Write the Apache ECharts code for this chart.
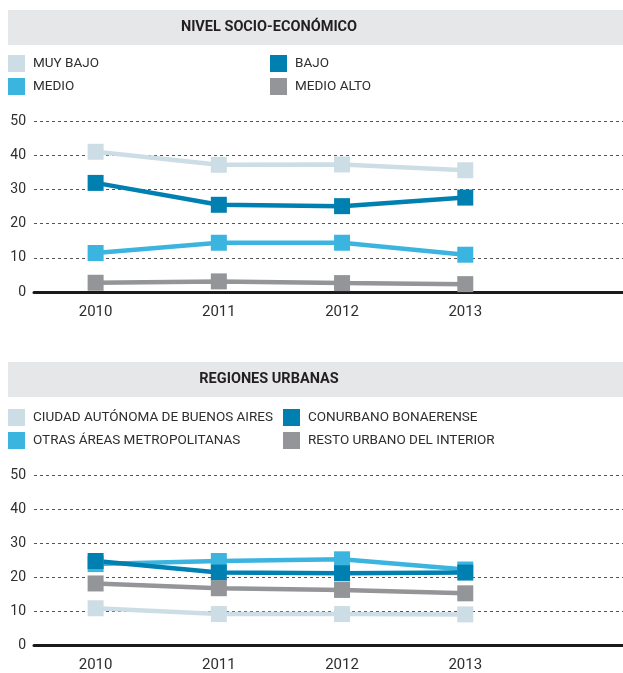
<!DOCTYPE html>
<html>
<head>
<meta charset="utf-8">
<script src="https://cdn.jsdelivr.net/npm/echarts@6/dist/echarts.min.js"></script>
<style>
  body { margin: 0; background: #fff; }
  #chart { width: 623px; height: 673px; }
</style>
</head>
<body>
<div id="chart"></div>
<script>
// datos
var years = [2010, 2011, 2012, 2013];
var yTicks = [0, 10, 20, 30, 40, 50];

var nivelTitle = "NIVEL SOCIO-ECONÓMICO";
var muyBajo = [41.0, 37.2, 37.3, 35.6];
var bajo = [31.9, 25.5, 25.1, 27.6];
var medio = [11.4, 14.4, 14.4, 10.9];
var medioAlto = [2.7, 3.1, 2.6, 2.3];

var regionTitle = "REGIONES URBANAS";
var caba = [10.8, 9.1, 9.1, 9.0];
var otras = [23.8, 24.7, 25.2, 22.2];
var conurbano = [24.7, 21.3, 21.1, 21.3];
var resto = [18.1, 16.7, 16.2, 15.2];

var C_LIGHT = "#cddde5", C_DARK = "#0080b0", C_MID = "#3cb4e0", C_GRAY = "#939598";
var FONT = "Roboto";
var TXT = "#2e2e2e";

function pts(arr) {
  return years.map(function (y, i) { return [y, arr[i]]; });
}

function line(name, arr, color, idx) {
  return {
    name: name,
    type: "line",
    xAxisIndex: idx,
    yAxisIndex: idx,
    data: pts(arr),
    symbol: "rect",
    symbolSize: 16,
    showSymbol: true,
    lineStyle: { color: color, width: 4.5 },
    itemStyle: { color: color },
    emphasis: { disabled: true }
  };
}

function xAxis(idx) {
  return {
    type: "value",
    gridIndex: idx,
    min: 2009.5,
    max: 2014.28,
    interval: 0.5,
    axisLine: { show: true, onZero: false, lineStyle: { color: "#1a1a1a", width: 3 } },
    axisTick: { show: false },
    splitLine: { show: false },
    axisLabel: {
      margin: 13,
      color: TXT,
      fontFamily: FONT,
      fontSize: 15,
      showMaxLabel: false,
      formatter: function (v) {
        return (Number.isInteger(v) && v <= years[years.length - 1]) ? String(v) : "";
      }
    }
  };
}

function yAxis(idx) {
  return {
    type: "value",
    gridIndex: idx,
    min: yTicks[0],
    max: yTicks[yTicks.length - 1],
    interval: yTicks[1] - yTicks[0],
    axisLine: { show: false },
    axisTick: { show: false },
    axisLabel: { margin: 8, color: TXT, fontFamily: FONT, fontSize: 14 },
    splitLine: { show: true, lineStyle: { color: "#555", width: 1, type: [3, 3] } }
  };
}

function legend(left, top, names) {
  return {
    left: left,
    top: top,
    padding: 0,
    orient: "vertical",
    icon: "rect",
    itemWidth: 17,
    itemHeight: 17,
    itemGap: 6,
    selectedMode: false,
    data: names,
    textStyle: { color: TXT, fontFamily: FONT, fontSize: 13.5, padding: [0, 0, 0, 3] }
  };
}

function band(y, text) {
  return [
    { type: "rect", shape: { x: 8, y: y, width: 615, height: 35 }, style: { fill: "#e6e7e8" }, silent: true },
    { type: "text", x: 269, y: y + 17.5, style: { text: text, align: "center", verticalAlign: "middle",
      fill: "#231f20", font: "bold 14.5px Roboto" }, silent: true }
  ];
}

var chart = echarts.init(document.getElementById("chart"));
chart.setOption({
  animation: false,
  backgroundColor: "#fff",
  graphic: band(10, nivelTitle).concat(band(362, regionTitle)),
  legend: [
    legend(8, 55, ["MUY BAJO", "MEDIO"]),
    legend(270, 55, ["BAJO", "MEDIO ALTO"]),
    legend(8, 409, ["CIUDAD AUTÓNOMA DE BUENOS AIRES", "OTRAS ÁREAS METROPOLITANAS"]),
    legend(283, 409, ["CONURBANO BONAERENSE", "RESTO URBANO DEL INTERIOR"])
  ],
  grid: [
    { left: 34, right: 0, top: 121, height: 171 },
    { left: 34, right: 0, top: 475, height: 170 }
  ],
  xAxis: [xAxis(0), xAxis(1)],
  yAxis: [yAxis(0), yAxis(1)],
  series: [
    line("MUY BAJO", muyBajo, C_LIGHT, 0),
    line("MEDIO", medio, C_MID, 0),
    line("BAJO", bajo, C_DARK, 0),
    line("MEDIO ALTO", medioAlto, C_GRAY, 0),
    line("CIUDAD AUTÓNOMA DE BUENOS AIRES", caba, C_LIGHT, 1),
    line("OTRAS ÁREAS METROPOLITANAS", otras, C_MID, 1),
    line("CONURBANO BONAERENSE", conurbano, C_DARK, 1),
    line("RESTO URBANO DEL INTERIOR", resto, C_GRAY, 1)
  ]
});
</script>
</body>
</html>
